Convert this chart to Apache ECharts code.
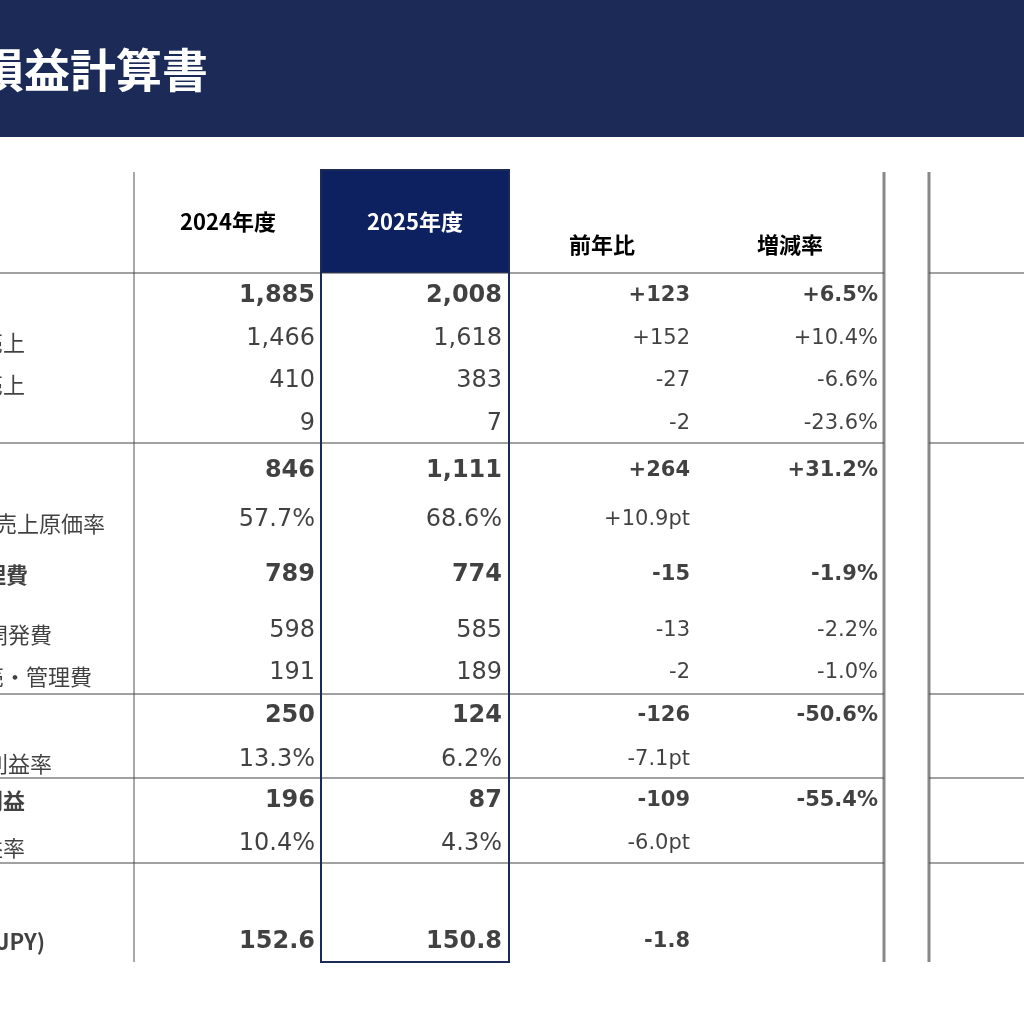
<!DOCTYPE html>
<html><head><meta charset="utf-8">
<script src="https://cdn.jsdelivr.net/npm/echarts@6/dist/echarts.min.js"></script>
<style>html,body{margin:0;padding:0;background:#fff}#c{width:1024px;height:1024px}</style>
</head><body><div id="c"></div>
<script>
const title = '損益計算書';
const headers = ['2024年度','2025年度','前年比','増減率'];
const rowLabels = ['売上収益','国内売上','海外売上','その他','売上原価','売上原価率','販売費及び一般管理費','研究開発費','販売・管理費','営業利益','営業利益率','当期純利益','純利益率','為替レート(USD/JPY)'];
const fy2024 = ['1,885','1,466','410','9','846','57.7%','789','598','191','250','13.3%','196','10.4%','152.6'];
const fy2025 = ['2,008','1,618','383','7','1,111','68.6%','774','585','189','124','6.2%','87','4.3%','150.8'];
const yoy = ['+123','+152','-27','-2','+264','+10.9pt','-15','-13','-2','-126','-7.1pt','-109','-6.0pt','-1.8'];
const rate = ['+6.5%','+10.4%','-6.6%','-23.6%','+31.2%','','-1.9%','-2.2%','-1.0%','-50.6%','','-55.4%','',''];
const boldRows = [0,4,6,9,11,13];

// layout (pixel positions of table structure)
const rowY = [296,339,381,424,471,520,575,631,673,716,760,801,844,942];
const labelRight = [-200,25,25,-200,-200,105,28,52,92,-200,52,25,25,45];
const colRight = [315,502,690,878];
const colSize = [24,24,21,21];
const FONT = '"DejaVu Sans","Noto Sans CJK JP",sans-serif';

const data = [];
rowLabels.forEach((l,i)=>{
  const b = boldRows.includes(i);
  data.push({value:[labelRight[i],rowY[i]+(i>0&&!b&&i!==13?4:0)],label:{formatter:l,align:'right',fontSize:22,fontWeight:b?'bold':'normal',fontFamily:'"Noto Sans CJK JP",sans-serif'}});
  [fy2024,fy2025,yoy,rate].forEach((arr,c)=>{
    data.push({value:[colRight[c],rowY[i]],label:{formatter:arr[i],align:'right',fontSize:colSize[c],fontWeight:b?'bold':'normal'}});
  });
});

const ln = (x1,y1,x2,y2,color,w)=>({type:'line',shape:{x1,y1,x2,y2},style:{stroke:color,lineWidth:w},z:5});
const graphics = [
  {type:'rect',shape:{x:0,y:0,width:1024,height:137},style:{fill:'#1b2a57'}},
  {type:'text',x:-22,y:70,style:{text:title,fill:'#fff',font:'bold 46px "Noto Sans CJK JP"',textVerticalAlign:'middle'},z:6},
  {type:'rect',shape:{x:321,y:170,width:188,height:103},style:{fill:'#0d2060'}},
  {type:'rect',shape:{x:321,y:170,width:188,height:792},style:{fill:'none',stroke:'#1b2a57',lineWidth:2},z:6},
  {type:'text',x:228,y:222,style:{text:headers[0],fill:'#000',font:'bold 22px "Noto Sans CJK JP"',align:'center',verticalAlign:'middle'}},
  {type:'text',x:415,y:222,style:{text:headers[1],fill:'#fff',font:'bold 22px "Noto Sans CJK JP"',align:'center',verticalAlign:'middle'},z:7},
  {type:'text',x:602,y:245,style:{text:headers[2],fill:'#000',font:'bold 22px "Noto Sans CJK JP"',align:'center',verticalAlign:'middle'}},
  {type:'text',x:790,y:245,style:{text:headers[3],fill:'#000',font:'bold 22px "Noto Sans CJK JP"',align:'center',verticalAlign:'middle'}},
  ln(134,172,134,962,'#555',1),
  ln(884,172,884,962,'#888',3),
  ln(929,172,929,962,'#888',3),
];
[273,443,694,778,863].forEach(y=>{graphics.push(ln(0,y,884,y,'#444',1.2));graphics.push(ln(929,y,1024,y,'#444',1.2));});

const chart = echarts.init(document.getElementById('c'));
chart.setOption({
  animation:false,
  grid:{left:0,right:0,top:0,bottom:0},
  xAxis:{type:'value',min:0,max:1024,show:false},
  yAxis:{type:'value',min:0,max:1024,inverse:true,show:false},
  graphic:graphics,
  series:[{type:'scatter',symbolSize:0,data,
    label:{show:true,position:'left',distance:0,color:'#111',fontFamily:FONT}}]
});
</script></body></html>
